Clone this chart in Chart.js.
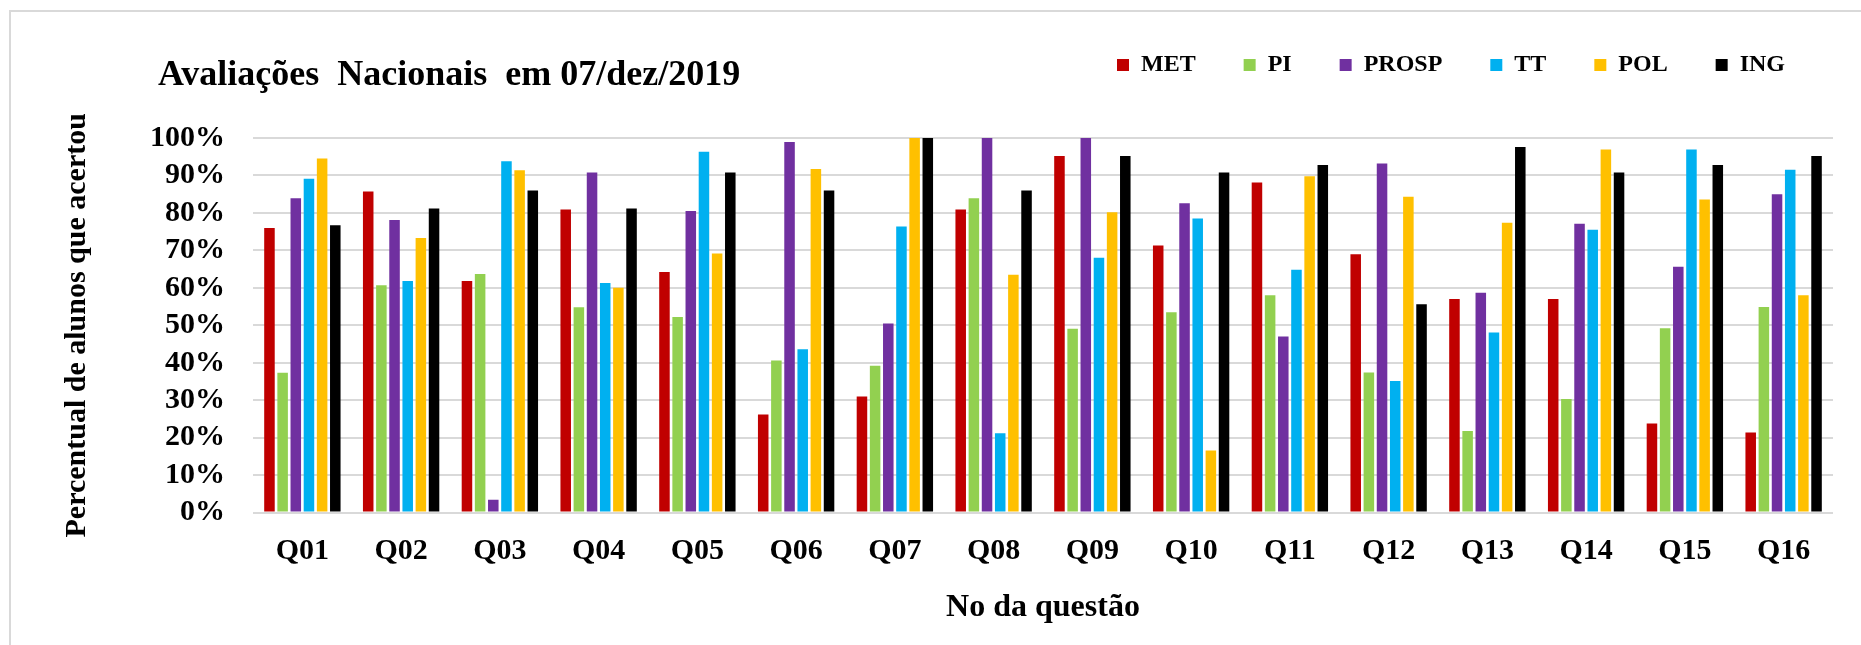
<!DOCTYPE html>
<html>
<head>
<meta charset="utf-8">
<title>Avaliações Nacionais em 07/dez/2019</title>
<script src="https://cdn.jsdelivr.net/npm/chart.js@4.4.1/dist/chart.umd.min.js"></script>
<style>
  html, body { margin: 0; padding: 0; background: #fff; }
  #wrap { position: relative; width: 1861px; height: 645px; overflow: hidden; }
  #frame { position: absolute; left: 9px; top: 10px; right: 0; bottom: 0; border-top: 2px solid #d9d9d9; border-left: 2px solid #d9d9d9; }
  #title { position: absolute; left: 158px; top: 55px; font: bold 36px 'Liberation Serif', 'Times New Roman', serif; line-height: 36px; color: #000; white-space: pre; }
  canvas { position: absolute; left: 0; top: 0; }
</style>
</head>
<body>
<div id="wrap">
  <div id="frame"></div>
  <canvas id="chart" width="1861" height="645"></canvas>
  <div id="title">Avaliações  Nacionais  em 07/dez/2019</div>
</div>
<script>
// questões e percentuais (0-100)
const questoes = ['Q01','Q02','Q03','Q04','Q05','Q06','Q07','Q08','Q09','Q10','Q11','Q12','Q13','Q14','Q15','Q16'];

const met   = [76.0, 85.7, 61.8, 80.9, 64.2, 26.2, 31.0, 80.9, 95.2, 71.3, 88.1, 69.0, 57.0, 57.0, 23.8, 21.4];
const pi    = [37.3, 60.7, 63.7, 54.8, 52.2, 40.6, 39.2, 83.9, 49.1, 53.5, 58.0, 37.4, 21.8, 30.3, 49.2, 54.9];
const prosp = [83.9, 78.1,  3.4, 90.8, 80.5, 98.9, 50.5, 100,  100,  82.6, 47.0, 93.2, 58.7, 77.1, 65.6, 85.0];
const tt    = [89.1, 61.8, 93.8, 61.3, 96.3, 43.6, 76.4, 21.2, 68.0, 78.5, 64.8, 35.1, 48.1, 75.5, 96.9, 91.5];
const pol   = [94.5, 73.3, 91.4, 60.0, 69.2, 91.7, 100,  63.5, 80.2, 16.6, 89.8, 84.3, 77.4, 96.9, 83.6, 58.0];
const ing   = [76.7, 81.2, 86.0, 81.2, 90.8, 86.0, 100,  86.0, 95.2, 90.8, 92.8, 55.6, 97.6, 90.8, 92.8, 95.2];

const yTicks = [0, 10, 20, 30, 40, 50, 60, 70, 80, 90, 100];

const serif = "'Liberation Serif', 'Times New Roman', serif";

function serie(label, data, color){
  return { label: label, data: data, backgroundColor: color, borderWidth: 0 };
}

new Chart(document.getElementById('chart').getContext('2d'), {
  type: 'bar',
  data: {
    labels: questoes,
    datasets: [
      serie('MET', met, '#C00000'),
      serie('PI', pi, '#92D050'),
      serie('PROSP', prosp, '#7030A0'),
      serie('TT', tt, '#00B0F0'),
      serie('POL', pol, '#FFC000'),
      serie('ING', ing, '#000000')
    ]
  },
  options: {
    responsive: false,
    animation: false,
    devicePixelRatio: 1,
    categoryPercentage: 0.8,
    barPercentage: 0.8,
    layout: { padding: { top: 5, left: 20, right: 28, bottom: 0 } },
    plugins: {
      title: { display: false },
      // espaço vazio entre a legenda e a área do gráfico
      subtitle: { display: true, text: '', weight: 500, font: { size: 10 }, padding: { top: 0, bottom: 39 } },
      legend: {
        position: 'top',
        align: 'end',
        labels: {
          color: '#000',
          font: { family: serif, size: 24, weight: 'bold' },
          boxWidth: 12,
          boxHeight: 12,
          padding: 48
        }
      },
      tooltip: { enabled: false }
    },
    scales: {
      x: {
        grid: { display: false, drawTicks: false },
        border: { display: false },
        ticks: { color: '#000', font: { family: serif, size: 30, weight: 'bold' }, padding: 21 },
        title: { display: true, text: 'No da questão', color: '#000', font: { family: serif, size: 32, weight: 'bold' }, padding: { top: -2, bottom: 18 } }
      },
      y: {
        min: 0,
        max: 100,
        afterBuildTicks: axis => { axis.ticks = yTicks.map(v => ({ value: v })); },
        grid: { color: '#d9d9d9', lineWidth: 2, drawTicks: false },
        border: { display: false },
        ticks: {
          autoSkip: false,
          color: '#000',
          padding: 28,
          font: { family: serif, size: 30, weight: 'bold' },
          callback: v => v + '%'
        },
        title: { display: true, text: 'Percentual de alunos que acertou', color: '#000', font: { family: serif, size: 30, weight: 'bold' }, padding: { top: 39, bottom: 27 } }
      }
    }
  }
});
</script>
</body>
</html>
